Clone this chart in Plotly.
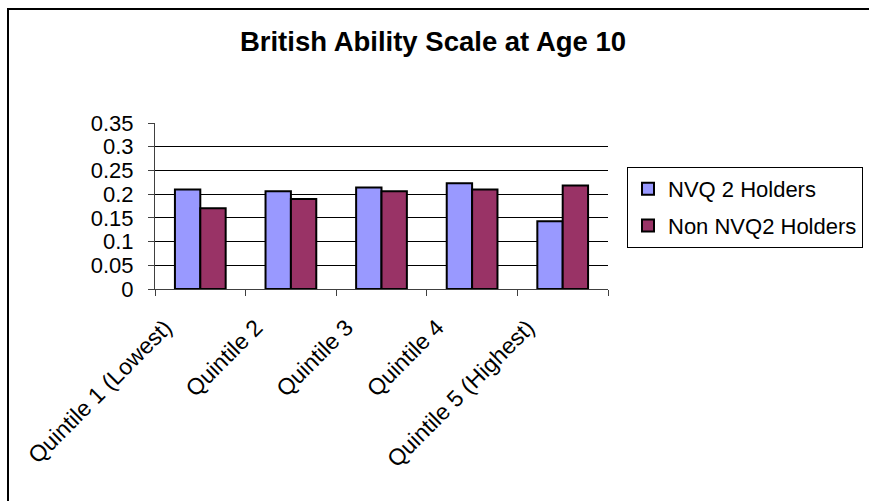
import plotly.graph_objects as go

categories = ["Quintile 1 (Lowest)", "Quintile 2", "Quintile 3", "Quintile 4", "Quintile 5 (Highest)"]
nvq2_holders = [0.210, 0.206, 0.214, 0.223, 0.143]
non_nvq2_holders = [0.170, 0.190, 0.206, 0.210, 0.218]
series_names = ["NVQ 2 Holders", "Non NVQ2 Holders"]
y_tick_vals = [0, 0.05, 0.1, 0.15, 0.2, 0.25, 0.3, 0.35]
y_tick_text = ["0", "0.05", "0.1", "0.15", "0.2", "0.25", "0.3", "0.35"]
title_text = "British Ability Scale at Age 10"

W, H = 869, 501
L, R, T, B = 155, 608, 123, 289

FONT = "Liberation Sans, Arial, sans-serif"

fig = go.Figure()
fig.add_trace(go.Bar(
    x=categories, y=nvq2_holders, name=series_names[0], legendgroup="a",
    marker=dict(color="#9999FF", line=dict(color="black", width=2)),
))
fig.add_trace(go.Bar(
    x=categories, y=non_nvq2_holders, name=series_names[1], legendgroup="b",
    marker=dict(color="#993366", line=dict(color="black", width=2)),
))

def px_x(p):
    return (p - L) / (R - L)

def px_y(p):
    return (B - p) / (B - T)

fig.update_layout(
    width=W, height=H, autosize=False,
    margin=dict(l=L, r=W - R, t=T, b=H - B, pad=0, autoexpand=False),
    paper_bgcolor="white", plot_bgcolor="white",
    font=dict(family=FONT, size=22, color="black"),
    barmode="group", bargap=0.44, bargroupgap=0,
    title=dict(text="<b>" + title_text + "</b>", font=dict(family=FONT, size=27.5, color="black"),
               x=433 / W, xanchor="center", xref="container",
               y=1 - 41 / H, yanchor="middle", yref="container"),
    legend=dict(x=627 / W, xanchor="left", xref="container",
                y=1 - 167 / H, yanchor="top", yref="container",
                bordercolor="black", borderwidth=1, bgcolor="white",
                font=dict(family=FONT, size=22, color="black"),
                traceorder="grouped", tracegroupgap=5, itemwidth=30),
    showlegend=True,
    shapes=[
        dict(type="line", xref="paper", yref="paper",
             x0=px_x(8), x1=px_x(8), y0=px_y(H + 5), y1=px_y(8),
             line=dict(color="black", width=2), layer="above"),
        dict(type="line", xref="paper", yref="paper",
             x0=px_x(7), x1=px_x(W + 5), y0=px_y(9), y1=px_y(9),
             line=dict(color="black", width=2), layer="above"),
    ],
)
fig.update_xaxes(
    type="category", tickangle=-45, showgrid=False,
    showline=True, linecolor="#404040", linewidth=1,
    ticks="outside", tickson="boundaries", ticklen=6, tickcolor="#404040",
    tickfont=dict(family=FONT, size=23, color="black"),
    ticklabelshift=-35, ticklabelstandoff=15, automargin=False,
)
fig.update_yaxes(
    range=[0, 0.35], tickvals=y_tick_vals, ticktext=y_tick_text,
    showgrid=True, gridcolor="black", gridwidth=1,
    showline=True, linecolor="#404040", linewidth=1,
    ticks="outside", ticklen=6, tickcolor="#404040",
    tickfont=dict(family=FONT, size=22, color="black"),
    ticklabelstandoff=10, automargin=False,
    zeroline=False,
)

fig.write_html("out.html")
